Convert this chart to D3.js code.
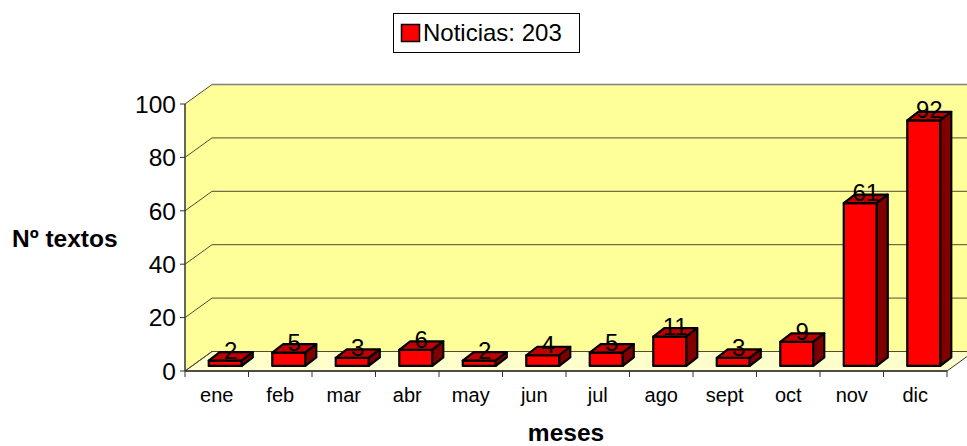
<!DOCTYPE html>
<html>
<head>
    <meta charset="utf-8" />
    <title>Noticias por mes</title>
    <style>
        body { margin: 0; background: #fff; }
        svg { display: block; font-family: "Liberation Sans", Arial, sans-serif; }
    </style>
</head>
<body>
    <svg id="chart" width="967" height="446"></svg>
    <script src="https://cdn.jsdelivr.net/npm/d3@7"></script>
    <script>
        // data
        var months = ["ene", "feb", "mar", "abr", "may", "jun", "jul", "ago", "sept", "oct", "nov", "dic"];
        var values = [2, 5, 3, 6, 2, 4, 5, 11, 3, 9, 61, 92];
        var yTicks = [0, 20, 40, 60, 80, 100];
        var seriesName = "Noticias: 203";

        var svg = d3.select("#chart");

        // front plane of the 3d box
        var x = d3.scaleBand().domain(months).range([185, 947]).padding(0);
        var y = d3.scaleLinear().domain([0, 100]).range([371, 104]);

        // depth of the box and of the bars
        var DX = 27, DY = -19.5;
        var barFrac = 0.26;           // where the bar front sits in depth
        var bdx = 11, bdy = -8.5;     // bar depth
        var offX = DX * barFrac, offY = DY * barFrac;
        var barW = x.bandwidth() * 0.52;

        function pts(a) { return a.map(function(p) { return p.join(","); }).join(" "); }

        var x0 = x.range()[0], x1 = x.range()[1];

        // left wall
        svg.append("polygon")
            .attr("points", pts([[x0, y(0)], [x0, y(100)], [x0 + DX, y(100) + DY], [x0 + DX, y(0) + DY]]))
            .attr("fill", "#ffff99");

        // back wall
        svg.append("polygon")
            .attr("points", pts([[x0 + DX, y(100) + DY], [x1 + DX, y(100) + DY], [x1 + DX, y(0) + DY], [x0 + DX, y(0) + DY]]))
            .attr("fill", "#ffff99");

        // floor
        svg.append("polygon")
            .attr("points", pts([[x0, y(0)], [x1, y(0)], [x1 + DX, y(0) + DY], [x0 + DX, y(0) + DY]]))
            .attr("fill", "#ffffcc")
            .attr("stroke", "#333")
            .attr("stroke-width", 1);

        // gridlines on walls
        var grid = svg.append("g").attr("stroke", "#4d4d33").attr("stroke-width", 1).attr("fill", "none");
        yTicks.forEach(function(t) {
            grid.append("polyline")
                .attr("points", pts([[x0, y(t)], [x0 + DX, y(t) + DY], [x1 + DX, y(t) + DY]]));
        });
        // top edge of back wall in grey
        svg.append("line")
            .attr("x1", x0 + DX).attr("x2", x1 + DX)
            .attr("y1", y(100) + DY).attr("y2", y(100) + DY)
            .attr("stroke", "#808080").attr("stroke-width", 1.5);

        // y axis
        svg.append("line")
            .attr("x1", x0).attr("x2", x0)
            .attr("y1", y(0)).attr("y2", y(100))
            .attr("stroke", "#333").attr("stroke-width", 1.5);
        var yAx = svg.append("g");
        yAx.selectAll("line").data(yTicks).enter().append("line")
            .attr("x1", x0 - 5).attr("x2", x0)
            .attr("y1", function(d) { return y(d); })
            .attr("y2", function(d) { return y(d); })
            .attr("stroke", "#333");
        yAx.selectAll("text").data(yTicks).enter().append("text")
            .attr("x", x0 - 9)
            .attr("y", function(d) { return y(d); })
            .attr("dy", "0.36em")
            .attr("text-anchor", "end")
            .attr("font-size", 24.5)
            .text(function(d) { return d; });

        // x axis
        svg.append("line")
            .attr("x1", x0).attr("x2", x1)
            .attr("y1", y(0)).attr("y2", y(0))
            .attr("stroke", "#333").attr("stroke-width", 1.5);
        var bounds = months.map(function(m) { return x(m); }).concat([x1]);
        svg.append("g").selectAll("line").data(bounds).enter().append("line")
            .attr("x1", function(d) { return d; })
            .attr("x2", function(d) { return d; })
            .attr("y1", y(0)).attr("y2", y(0) + 6)
            .attr("stroke", "#333");
        svg.append("g").selectAll("text").data(months).enter().append("text")
            .attr("x", function(d) { return x(d) + x.bandwidth() / 2; })
            .attr("y", 402)
            .attr("text-anchor", "middle")
            .attr("font-size", 20)
            .text(function(d) { return d; });

        // bars
        var bars = svg.append("g")
            .attr("stroke", "#000")
            .attr("stroke-width", 2.2)
            .attr("stroke-linejoin", "round");
        months.forEach(function(m, i) {
            var v = values[i];
            var bx = x(m) + (x.bandwidth() - barW) / 2 + 1.5 + offX;
            var yb = y(0) + offY;
            var yt = y(v) + offY;
            bars.append("rect")
                .attr("x", bx).attr("y", yt)
                .attr("width", barW).attr("height", yb - yt)
                .attr("fill", "#ff0000");
            bars.append("polygon")
                .attr("points", pts([[bx, yt], [bx + barW, yt], [bx + barW + bdx, yt + bdy], [bx + bdx, yt + bdy]]))
                .attr("fill", "#c00000");
            bars.append("polygon")
                .attr("points", pts([[bx + barW, yt], [bx + barW, yb], [bx + barW + bdx, yb + bdy], [bx + barW + bdx, yt + bdy]]))
                .attr("fill", "#800000");
            svg.append("text")
                .attr("x", bx + barW / 2 + bdx / 2)
                .attr("y", yt - 2)
                .attr("text-anchor", "middle")
                .attr("font-size", 24)
                .attr("fill", "#000")
                .text(v);
        });

        // axis titles
        svg.append("text")
            .attr("x", 12).attr("y", 247)
            .attr("font-size", 24.5).attr("font-weight", "bold")
            .text("Nº textos");
        svg.append("text")
            .attr("x", 566).attr("y", 441)
            .attr("text-anchor", "middle")
            .attr("font-size", 24.5).attr("font-weight", "bold")
            .text("meses");

        // legend
        var lg = svg.append("g");
        lg.append("rect")
            .attr("x", 393.5).attr("y", 13.5).attr("width", 186).attr("height", 39)
            .attr("fill", "#fff").attr("stroke", "#000");
        lg.append("rect")
            .attr("x", 401.5).attr("y", 24.5).attr("width", 18).attr("height", 17)
            .attr("fill", "#ff0000").attr("stroke", "#000").attr("stroke-width", 1.5);
        lg.append("text")
            .attr("x", 423).attr("y", 41)
            .attr("font-size", 24)
            .text(seriesName);
    </script>
</body>
</html>
